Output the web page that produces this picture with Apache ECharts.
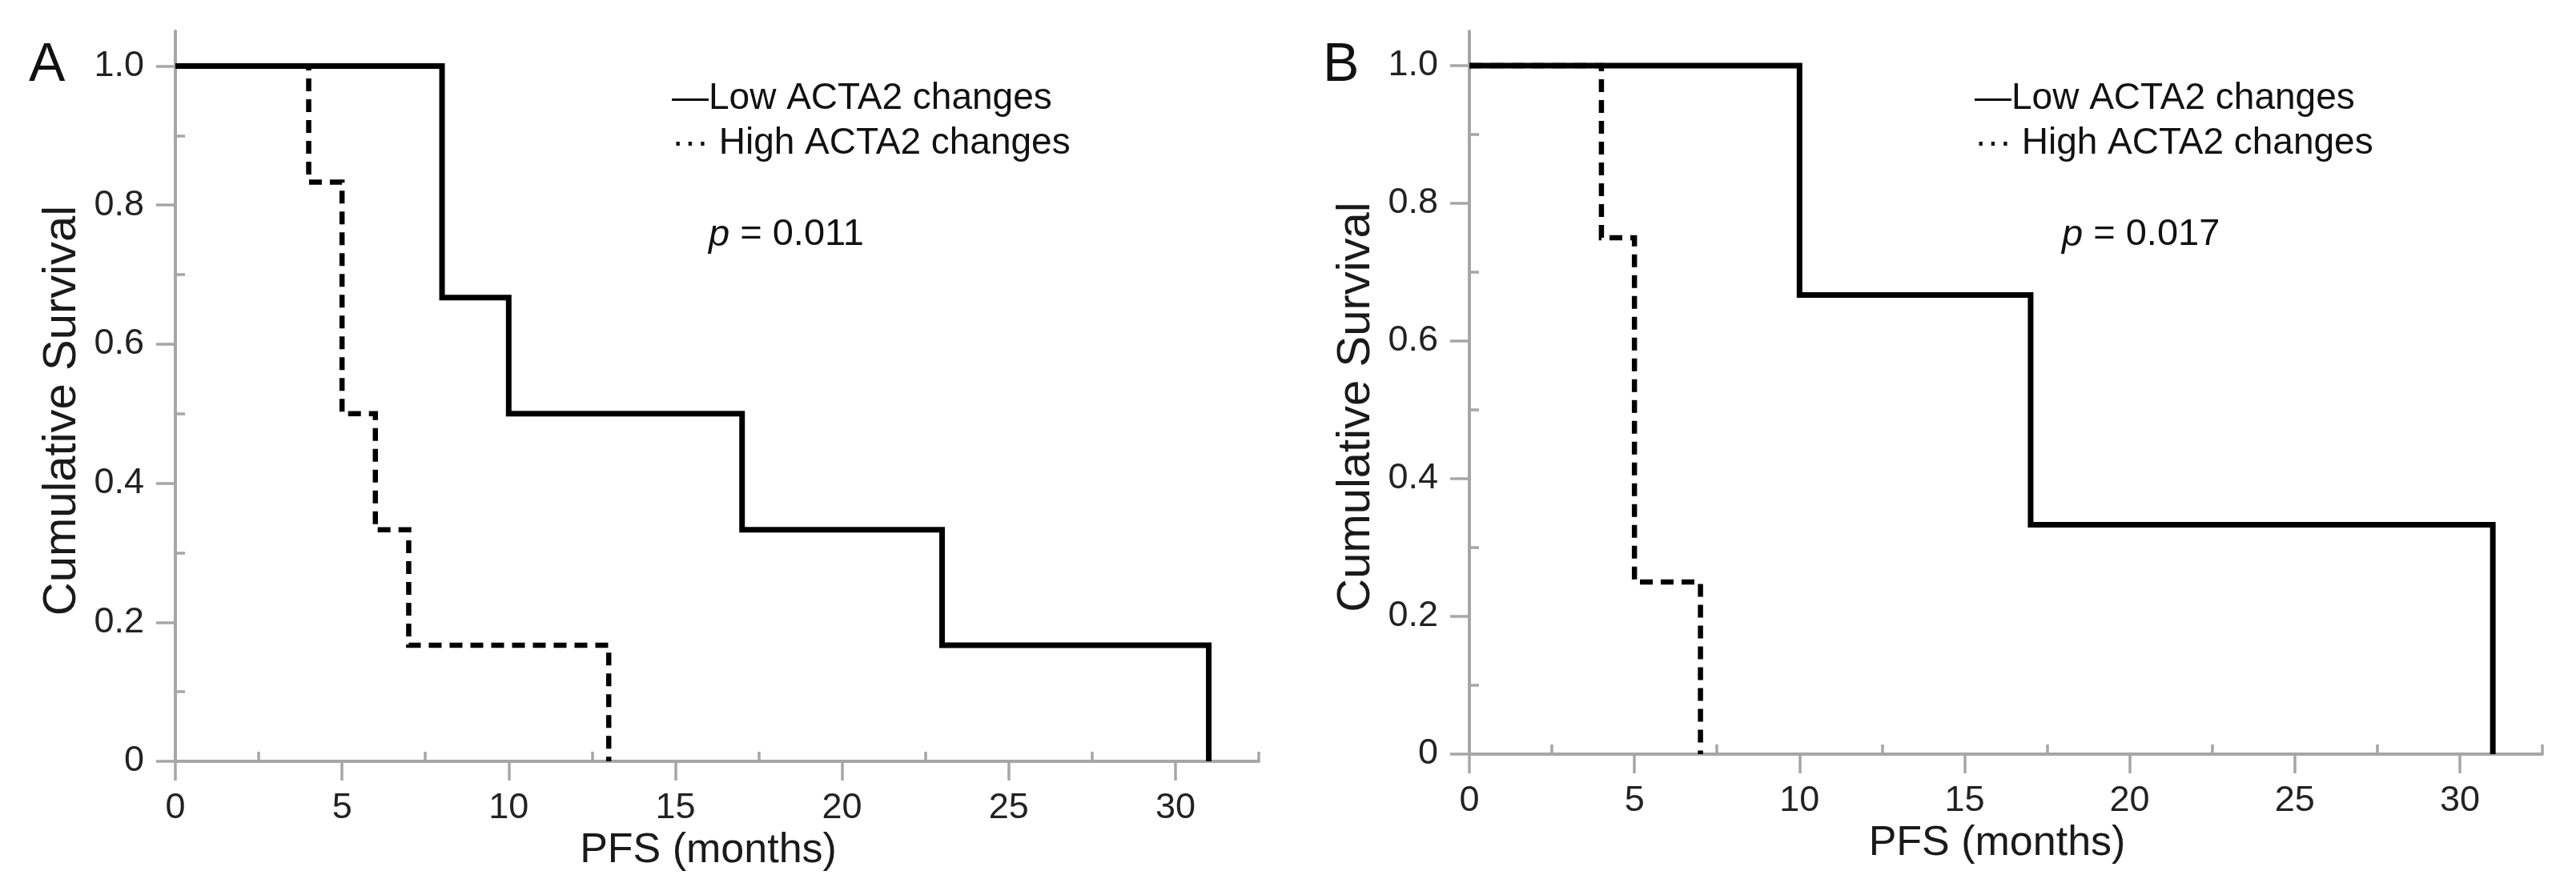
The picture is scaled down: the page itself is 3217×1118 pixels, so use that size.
<!DOCTYPE html>
<html>
<head>
<meta charset="utf-8">
<script src="https://cdn.jsdelivr.net/npm/echarts@6/dist/echarts.min.js"></script>
<style>
html,body{margin:0;padding:0;background:#fff;}
#chart{width:3217px;height:1118px;}
</style>
</head>
<body>
<div id="chart"></div>
<script>
// ---- data ----
const xMajorTicks = [0, 5, 10, 15, 20, 25, 30];
const xMinorTicks = [2.5, 7.5, 12.5, 17.5, 22.5, 27.5, 32.5];
const yMajorTicks = [0, 0.2, 0.4, 0.6, 0.8, 1.0];
const yMinorTicks = [0.1, 0.3, 0.5, 0.7, 0.9];

const aLowTime  = [0, 8, 10, 17, 23, 31];
const aLowSurv  = [1, 0.667, 0.5, 0.333, 0.167, 0];
const aHighTime = [0, 4, 5, 6, 7, 13];
const aHighSurv = [1, 0.833, 0.5, 0.333, 0.167, 0];

const bLowTime  = [0, 10, 17, 31];
const bLowSurv  = [1, 0.667, 0.333, 0];
const bHighTime = [0, 4, 5, 7];
const bHighSurv = [1, 0.75, 0.25, 0];

const panelLabels = ['A', 'B'];
const legendLow = '\u2014Low ACTA2 changes';
const legendHigh = '\u00B7\u00B7\u00B7 High ACTA2 changes';
const pValues = ['0.011', '0.017'];
const xTitle = 'PFS (months)';
const yTitle = 'Cumulative Survival';

// ---- helpers ----
const FONT = '"Liberation Sans", Arial, Helvetica, sans-serif';
const AX = '#a6a6a6';
function pairs(t, s) { return t.map((v, i) => [v, s[i]]); }

const grids = [
  {left: 219, top: 39, width: 1353, height: 912},
  {left: 1835, top: 39, width: 1340, height: 903}
];

const xAxes = [], yAxes = [];
grids.forEach((g, gi) => {
  xAxes.push({
    type: 'value', gridIndex: gi, min: 0, max: 32.5,
    name: xTitle, nameLocation: 'middle', nameGap: 84,
    nameTextStyle: {fontFamily: FONT, fontSize: 52, color: '#1a1a1a', padding: [0, 22, 0, 0]},
    axisLine: {show: true, lineStyle: {color: AX, width: 4}},
    axisTick: {show: true, length: 24, customValues: xMajorTicks, lineStyle: {color: AX, width: 3.5}},
    axisLabel: {show: true, customValues: xMajorTicks, margin: 36, fontFamily: FONT, fontSize: 45, color: '#222'},
    splitLine: {show: false}
  });
  xAxes.push({
    type: 'value', gridIndex: gi, min: 0, max: 32.5,
    axisLine: {show: false},
    axisTick: {show: true, length: 12, customValues: xMinorTicks, lineStyle: {color: AX, width: 3.5}},
    axisLabel: {show: false},
    splitLine: {show: false}
  });
  yAxes.push({
    type: 'value', gridIndex: gi, min: 0, max: 1.05,
    name: yTitle, nameLocation: 'middle', nameGap: 112, nameRotate: 90,
    nameTextStyle: {fontFamily: FONT, fontSize: 58, color: '#1a1a1a', padding: [0, 36, 0, 0]},
    axisLine: {show: true, lineStyle: {color: AX, width: 4}},
    axisTick: {show: true, length: 24, customValues: yMajorTicks, lineStyle: {color: AX, width: 3.5}},
    axisLabel: {show: true, customValues: yMajorTicks, margin: 39, fontFamily: FONT, fontSize: 45, color: '#222',
      formatter: v => (v === 0 ? '0' : v.toFixed(1))},
    splitLine: {show: false}
  });
  yAxes.push({
    type: 'value', gridIndex: gi, min: 0, max: 1.05,
    axisLine: {show: false},
    axisTick: {show: true, length: 12, customValues: yMinorTicks, lineStyle: {color: AX, width: 3.5}},
    axisLabel: {show: false},
    splitLine: {show: false}
  });
});

function stepSeries(gi, data, dashed) {
  return {
    type: 'line', xAxisIndex: gi * 2, yAxisIndex: gi * 2, data: data,
    step: 'end', symbol: 'none', silent: true, z: dashed ? 2 : 3,
    lineStyle: {color: '#000', width: dashed ? 6.5 : 7, type: dashed ? [16, 10] : 'solid', cap: 'butt', join: 'miter'}
  };
}

const series = [
  stepSeries(0, pairs(aHighTime, aHighSurv), true),
  stepSeries(0, pairs(aLowTime, aLowSurv), false),
  stepSeries(1, pairs(bHighTime, bHighSurv), true),
  stepSeries(1, pairs(bLowTime, bLowSurv), false)
];

const legendLeft = [839, 2466];
const pLeft = [885, 2575];
const letterLeft = [36, 1652];
const graphic = [];
grids.forEach((g, gi) => {
  graphic.push({type: 'text', left: letterLeft[gi], top: 48, style: {text: panelLabels[gi], font: '68px ' + FONT, fill: '#111'}});
  graphic.push({type: 'text', left: legendLeft[gi], top: 100, style: {text: legendLow, font: '46px ' + FONT, fill: '#111'}});
  graphic.push({type: 'text', left: legendLeft[gi], top: 156, style: {text: legendHigh, font: '46px ' + FONT, fill: '#111'}});
  graphic.push({type: 'text', left: pLeft[gi], top: 270, style: {
    text: '{i|p} = ' + pValues[gi], font: '47px ' + FONT, fill: '#111',
    rich: {i: {fontStyle: 'italic', fontSize: 47, fontFamily: FONT, fill: '#111'}}
  }});
});

const chart = echarts.init(document.getElementById('chart'), null, {renderer: 'canvas'});
chart.setOption({
  animation: false,
  backgroundColor: '#fff',
  grid: grids,
  xAxis: xAxes,
  yAxis: yAxes,
  series: series,
  graphic: graphic
});
</script>
</body>
</html>
